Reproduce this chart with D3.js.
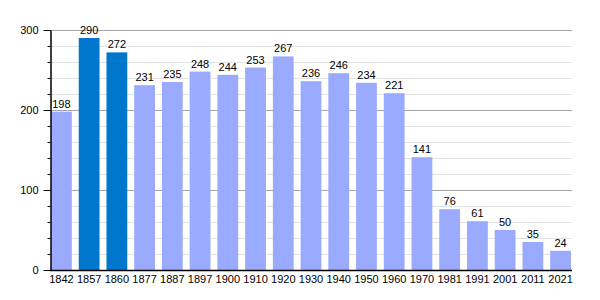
<!DOCTYPE html>
<html>
<head>
<meta charset="utf-8">
<script src="https://cdn.jsdelivr.net/npm/d3@7"></script>
<style>
  body { margin: 0; background: #fff; }
  text { font-family: "Liberation Sans", Arial, sans-serif; }
</style>
</head>
<body>
<script>
const years = ["1842", "1857", "1860", "1877", "1887", "1897", "1900", "1910", "1920", "1930",
               "1940", "1950", "1960", "1970", "1981", "1991", "2001", "2011", "2021"];
const population = [198, 290, 272, 231, 235, 248, 244, 253, 267, 236,
                    246, 234, 221, 141, 76, 61, 50, 35, 24];
// the two darker bars
const highlighted = ["1857", "1860"];
const majorTicks = [0, 100, 200, 300];
const minorTicks = d3.range(0, 301, 20);

const width = 600, height = 300;
const mLeft = 51, mRight = 571, mTop = 30, mBottom = 270;

const svg = d3.select('body')
    .append('svg')
    .attr('width', width)
    .attr('height', height)

const x = d3.scaleBand()
    .domain(years)
    .range([mLeft, mRight])
    .paddingInner(0.25)
    .paddingOuter(0)

const y = d3.scaleLinear()
    .domain([0, 300])
    .range([mBottom, mTop])

// minor grid
svg.append('g')
    .selectAll('line')
    .data(minorTicks.filter(d => d % 100 !== 0))
    .join('line')
    .attr('x1', mLeft - 1)
    .attr('x2', mRight + 1)
    .attr('y1', d => y(d) + 0.5)
    .attr('y2', d => y(d) + 0.5)
    .attr('stroke', '#e2e2e2')
    .attr('stroke-width', 1)

// major grid
svg.append('g')
    .selectAll('line')
    .data(majorTicks.filter(d => d > 0))
    .join('line')
    .attr('x1', mLeft - 1)
    .attr('x2', mRight + 1)
    .attr('y1', d => y(d) + 0.5)
    .attr('y2', d => y(d) + 0.5)
    .attr('stroke', '#a6a6a6')
    .attr('stroke-width', 1)

const data = years.map((yr, i) => ({ year: yr, value: population[i] }))

svg.append('g')
    .selectAll('rect')
    .data(data)
    .join('rect')
    .attr('x', d => x(d.year))
    .attr('width', x.bandwidth())
    .attr('y', d => y(d.value))
    .attr('height', d => y(0) - y(d.value))
    .attr('fill', d => highlighted.includes(d.year) ? '#0077cc' : '#99aaff')

// value labels
svg.append('g')
    .selectAll('text')
    .data(data)
    .join('text')
    .attr('x', d => x(d.year) + x.bandwidth() / 2)
    .attr('y', d => y(d.value) - 4)
    .attr('text-anchor', 'middle')
    .attr('font-size', 11)
    .attr('fill', '#000')
    .text(d => d.value)

// y axis with minor ticks
svg.append('g')
    .attr('transform', `translate(${mLeft - 0.5},0)`)
    .call(d3.axisLeft(y).tickValues(minorTicks).tickSize(3).tickFormat(''))
    .call(g => g.select('.domain').remove())
    .call(g => g.selectAll('line').attr('stroke', '#000'))

const yAxis = svg.append('g')
    .attr('transform', `translate(${mLeft - 0.5},0)`)
    .call(d3.axisLeft(y).tickValues(majorTicks).tickSize(7).tickSizeOuter(0).tickPadding(5))
yAxis.select('.domain').attr('stroke', '#000').attr('stroke-width', 1.5)
yAxis.selectAll('text').attr('font-size', 11).attr('fill', '#000')
yAxis.selectAll('line').attr('stroke', '#000')

// x axis
const xAxis = svg.append('g')
    .attr('transform', `translate(0,${mBottom + 0.5})`)
    .call(d3.axisBottom(x).tickSize(0).tickPadding(5))
xAxis.select('.domain')
    .attr('d', `M${mLeft - 1},0H${mRight + 1}`)
    .attr('stroke', '#000').attr('stroke-width', 1.5)
xAxis.selectAll('text').attr('font-size', 11).attr('fill', '#000')
</script>
</body>
</html>
